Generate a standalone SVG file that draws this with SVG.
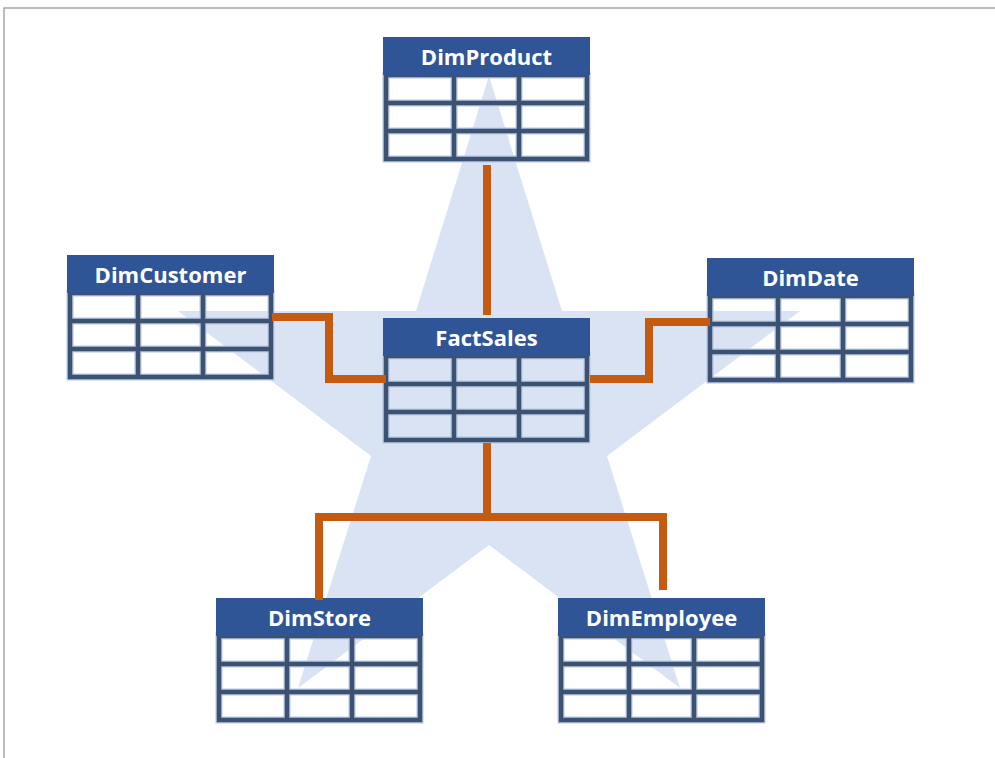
<svg xmlns="http://www.w3.org/2000/svg" xmlns:xlink="http://www.w3.org/1999/xlink" width="995" height="758" viewBox="0 0 995 758">
<style>
.frame{fill:none;stroke:#a6a6a6;stroke-width:1.5}
.star{fill:#dae3f3}
.hdr{fill:#2f5597}
.glow{fill:none;stroke:#b4c7e7;stroke-width:7}
.grid{fill:none;stroke:#3d5170;stroke-width:4.5}
.lbl{font-family:"Open Sans","Liberation Sans",sans-serif;font-weight:bold;font-size:22px;fill:#ffffff;text-anchor:middle}
.conn{fill:none;stroke:#c55a11;stroke-width:8;stroke-linejoin:miter;stroke-linecap:butt}
</style>
<defs>
<g id="table">
<path class="glow" d="M3,38 H204 V122 H3 Z M71,38 V122 M136,38 V122 M3,66 H204 M3,94 H204"/>
<path class="grid" d="M3,38 H204 V122 H3 Z M71,38 V122 M136,38 V122 M3,66 H204 M3,94 H204"/>
<rect class="hdr" x="0" y="0" width="207" height="38"/>
</g>
</defs>
<rect x="0" y="0" width="995" height="758" fill="#ffffff"/>
<path class="frame" d="M4,758 V8 H995"/>
<path class="star" d="M489,76 L562,311 L800,311 L607,456 L680,688 L489,545 L298,688 L371,456 L178,311 L416,311 Z"/>
<g id="DimProduct" transform="translate(383,37)">
<use xlink:href="#table"/>
<text class="lbl" x="103.5" y="28">DimProduct</text>
</g>
<g id="DimCustomer" transform="translate(67,255)">
<use xlink:href="#table"/>
<text class="lbl" x="103.5" y="28">DimCustomer</text>
</g>
<g id="FactSales" transform="translate(383,318)">
<use xlink:href="#table"/>
<text class="lbl" x="103.5" y="28">FactSales</text>
</g>
<g id="DimDate" transform="translate(707,258)">
<use xlink:href="#table"/>
<text class="lbl" x="103.5" y="28">DimDate</text>
</g>
<g id="DimStore" transform="translate(216,598)">
<use xlink:href="#table"/>
<text class="lbl" x="103.5" y="28">DimStore</text>
</g>
<g id="DimEmployee" transform="translate(558,598)">
<use xlink:href="#table"/>
<text class="lbl" x="103.5" y="28">DimEmployee</text>
</g>
<g id="connectors">
<path class="conn" d="M487,165 V315"/>
<path class="conn" d="M272,317 H329 V379 H386"/>
<path class="conn" d="M590,379 H649 V322 H710"/>
<path class="conn" d="M487,443 V517"/>
<path class="conn" d="M319,600 V517 H663 V590"/>
</g>
</svg>
